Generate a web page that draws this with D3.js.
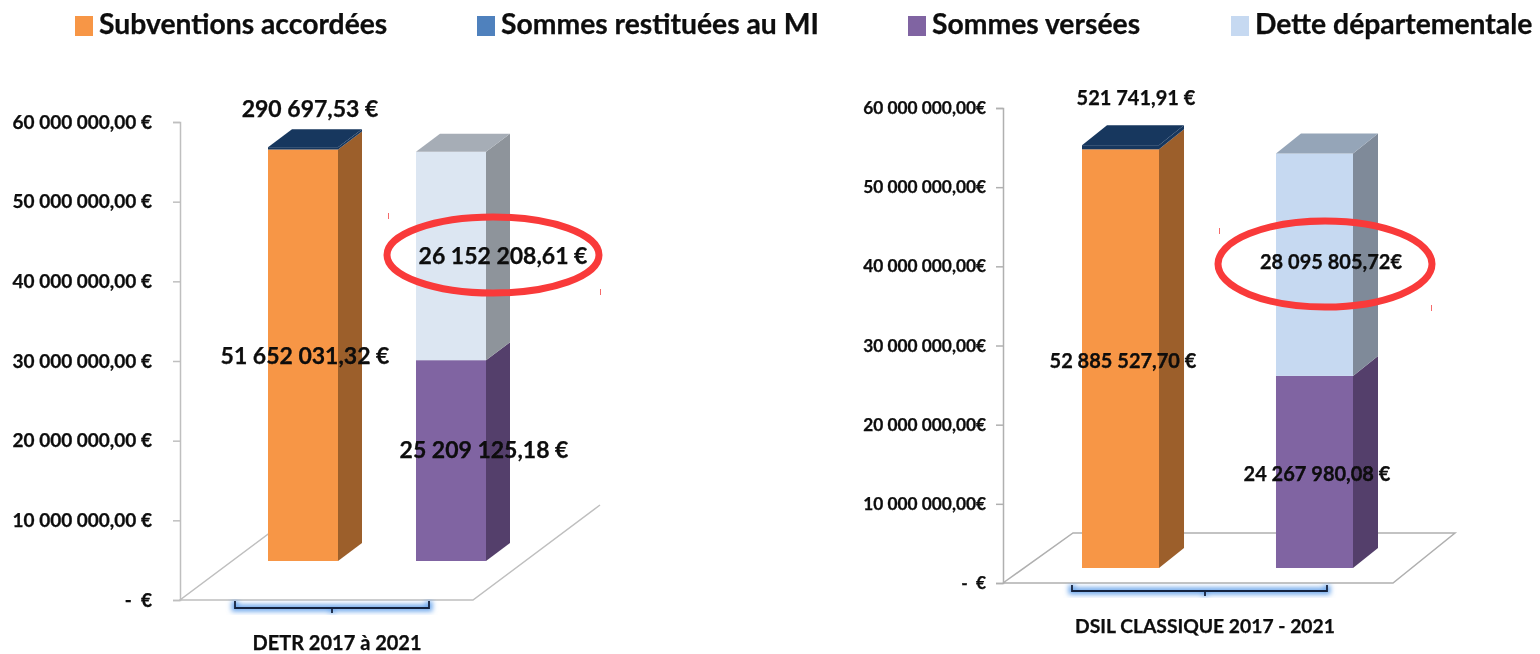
<!DOCTYPE html>
<html>
<head>
<meta charset="utf-8">
<script src="https://d3js.org/d3.v7.min.js"></script>
<style>
  html, body { margin: 0; padding: 0; background: #fff; }
  svg { display: block; }
  text { font-family: Lato, "Open Sans", sans-serif; font-weight: 700; fill: #0a0a0a; stroke: #0a0a0a; stroke-width: 0.25px; }
</style>
</head>
<body>
<svg id="chart" width="1540" height="654"></svg>
<script>
// data
const categories = ["DETR 2017 à 2021", "DSIL CLASSIQUE 2017 - 2021"];
const seriesNames = ["Subventions accordées", "Sommes restituées au MI", "Sommes versées", "Dette départementale"];
const subventions = [51652031.32, 52885527.70];
const restituees = [290697.53, 521741.91];
const versees = [25209125.18, 24267980.08];
const dette = [26152208.61, 28095805.72];
const tickValues = [0, 10000000, 20000000, 30000000, 40000000, 50000000, 60000000];
const tickLabelsLeft = ["-\u00a0\u00a0€", "10 000 000,00 €", "20 000 000,00 €", "30 000 000,00 €", "40 000 000,00 €", "50 000 000,00 €", "60 000 000,00 €"];
const tickLabelsRight = ["-\u00a0\u00a0€", "10 000 000,00€", "20 000 000,00€", "30 000 000,00€", "40 000 000,00€", "50 000 000,00€", "60 000 000,00€"];

const fr = d3.formatLocale({ decimal: ",", thousands: " ", grouping: [3], currency: ["", "€"] });
const money = fr.format(",.2f");

const legendColors = ["#f79646", "#4f81bd", "#8064a2", "#c6d9f1"];
const legendX = [75, 477, 908, 1231];

const svg = d3.select("#chart");

// small blur, the reference is an upscaled screenshot
const defs = svg.append("defs");
defs.append("filter").attr("id", "soft").append("feGaussianBlur").attr("stdDeviation", 0.5);
defs.append("filter").attr("id", "glow").append("feGaussianBlur").attr("stdDeviation", 2.5);

// legend
const legend = svg.append("g").selectAll("g").data(seriesNames).join("g")
  .attr("transform", (d, i) => "translate(" + legendX[i] + ",0)");
legend.append("rect").attr("y", 16).attr("width", 18).attr("height", 20)
  .attr("fill", (d, i) => legendColors[i]);
legend.append("text").attr("x", 24).attr("y", 34).attr("font-size", 28.3)
  .attr("filter", "url(#soft)").text(d => d);

const panels = [
  {
    idx: 0, axisX: 180, y0: 600, y60: 122, tickLabels: tickLabelsLeft, tickSize: 19, tickPad: 21,
    axisColor: "#bfbfbf", bars: [268, 486], barPad: 0.527, baseY: 561, depthX: 24, depthY: 18,
    floor: [[307, 505], [180, 600], [473, 600], [600, 505]],
    detteColors: ["#dce6f2", "#8e949b", "#a6adb6"],
    bracket: [235, 429, 601, 608, 332, 613],
    title: [337, 650, 20], labelSize: 23,
    labels: { sub: [305, 1], rest: [310, 109], vers: [484, -11], dette: [503, 0] },
    suffix: " €", detteSuffix: " €",
    ellipse: [493, 255, 106, 38], marks: [[388, 216], [600, 292]]
  },
  {
    idx: 1, axisX: 1003, y0: 583, y60: 108, tickLabels: tickLabelsRight, tickSize: 17.3, tickPad: 10,
    axisColor: "#b0b0b0", bars: [1082, 1353], barPad: 0.603, baseY: 568, depthX: 25, depthY: 20,
    floor: [[1003, 583], [1393, 583], [1455, 533], [1073, 533], [1003, 583]],
    detteColors: ["#c6d9f1", "#7f8a99", "#95a5b8"],
    bracket: [1072, 1327, 585, 591, 1205, 596],
    title: [1205, 633, 19.3], labelSize: 20,
    labels: { sub: [1123, 2], rest: [1136, 98], vers: [1317, 2], dette: [1331, -3] },
    suffix: " €", detteSuffix: "€",
    ellipse: [1325, 264, 107, 43], marks: [[1219, 231], [1431, 308]]
  }
];

panels.forEach(function (p) {
  const g = svg.append("g");
  const y = d3.scaleLinear().domain([0, 60000000]).range([p.y0, p.y60]);
  // bars stand further back on the floor than the axis zero
  const barShift = p.baseY - p.y0;
  const x = d3.scaleBand().domain(["accorde", "verse"]).range(p.bars).paddingInner(p.barPad);
  const bw = x.bandwidth();

  // floor
  g.append("path").attr("d", d3.line()(p.floor)).attr("fill", "none")
    .attr("stroke", p.axisColor).attr("stroke-width", 1.5);

  // axis
  const axis = d3.axisLeft(y).tickValues(tickValues).tickSize(7).tickPadding(p.tickPad)
    .tickFormat((d, i) => p.tickLabels[i]);
  const axisG = g.append("g").attr("transform", "translate(" + p.axisX + ",0)").call(axis);
  axisG.selectAll("path,line").attr("stroke", p.axisColor).attr("stroke-width", 1.5);
  axisG.selectAll("text").attr("font-size", p.tickSize).attr("font-family", null)
    .attr("filter", "url(#soft)").attr("fill", "#0a0a0a");

  // stacks
  const stacks = [
    { key: "accorde", segs: [
      { v: subventions[p.idx], c: ["#f79646", "#9c5f2b", "#c87a38"] },
      { v: restituees[p.idx], c: ["#17375e", "#17375e", "#17375e"] }
    ] },
    { key: "verse", segs: [
      { v: versees[p.idx], c: ["#8064a2", "#543f6b", "#6a5388"] },
      { v: dette[p.idx], c: p.detteColors }
    ] }
  ];

  stacks.forEach(function (s) {
    let start = 0;
    s.segs.forEach(function (seg, i) {
      const end = start + seg.v;
      const yb = y(start) + barShift, yt = y(end) + barShift, x0 = x(s.key), x1 = x0 + bw;
      // side
      g.append("path").attr("fill", seg.c[1])
        .attr("d", d3.line()([[x1, yb], [x1 + p.depthX, yb - p.depthY], [x1 + p.depthX, yt - p.depthY], [x1, yt]]));
      // front
      g.append("rect").attr("x", x0).attr("y", yt).attr("width", bw).attr("height", yb - yt).attr("fill", seg.c[0]);
      // top, only for the last segment of the stack
      if (i == s.segs.length - 1) {
        g.append("path").attr("fill", seg.c[2])
          .attr("d", d3.line()([[x0, yt], [x0 + p.depthX, yt - p.depthY], [x1 + p.depthX, yt - p.depthY], [x1, yt]]));
      }
      seg.mid = (yb + yt) / 2;
      start = end;
    });
  });

  // bracket under the bars, with its blue glow
  const [bx0, bx1, by0, by1, bmx, bmy] = p.bracket;
  const bd = "M" + bx0 + "," + by0 + "V" + by1 + "H" + bx1 + "V" + by0 + "M" + bmx + "," + by1 + "V" + bmy;
  g.append("path").attr("d", bd).attr("fill", "none").attr("stroke", "#6fa8ec").attr("stroke-width", 7).attr("filter", "url(#glow)");
  g.append("path").attr("d", bd).attr("fill", "none").attr("stroke", "#14233f").attr("stroke-width", 1.8);

  // red circling of the debt value
  const [cx, cy, rx, ry] = p.ellipse;
  g.append("ellipse").attr("cx", cx).attr("cy", cy).attr("rx", rx).attr("ry", ry)
    .attr("fill", "none").attr("stroke", "#f93a3a").attr("stroke-width", 7);
  g.selectAll(".mark").data(p.marks).join("rect").attr("class", "mark")
    .attr("x", d => d[0]).attr("y", d => d[1] - 3).attr("width", 1).attr("height", 6).attr("fill", "#f56a6a");

  // value labels
  const lab = g.append("g").attr("text-anchor", "middle").attr("font-size", p.labelSize).attr("filter", "url(#soft)");
  function label(xPos, yPos, txt) {
    lab.append("text").attr("x", xPos).attr("y", yPos).attr("dy", "0.35em").text(txt);
  }
  label(p.labels.sub[0], stacks[0].segs[0].mid + p.labels.sub[1], money(subventions[p.idx]) + p.suffix);
  label(p.labels.rest[0], p.labels.rest[1], money(restituees[p.idx]) + p.suffix);
  label(p.labels.vers[0], stacks[1].segs[0].mid + p.labels.vers[1], money(versees[p.idx]) + p.suffix);
  label(p.labels.dette[0], stacks[1].segs[1].mid + p.labels.dette[1], money(dette[p.idx]) + p.detteSuffix);

  // category label
  g.append("text").attr("x", p.title[0]).attr("y", p.title[1]).attr("text-anchor", "middle")
    .attr("font-size", p.title[2]).attr("filter", "url(#soft)").text(categories[p.idx]);
});
</script>
</body>
</html>
